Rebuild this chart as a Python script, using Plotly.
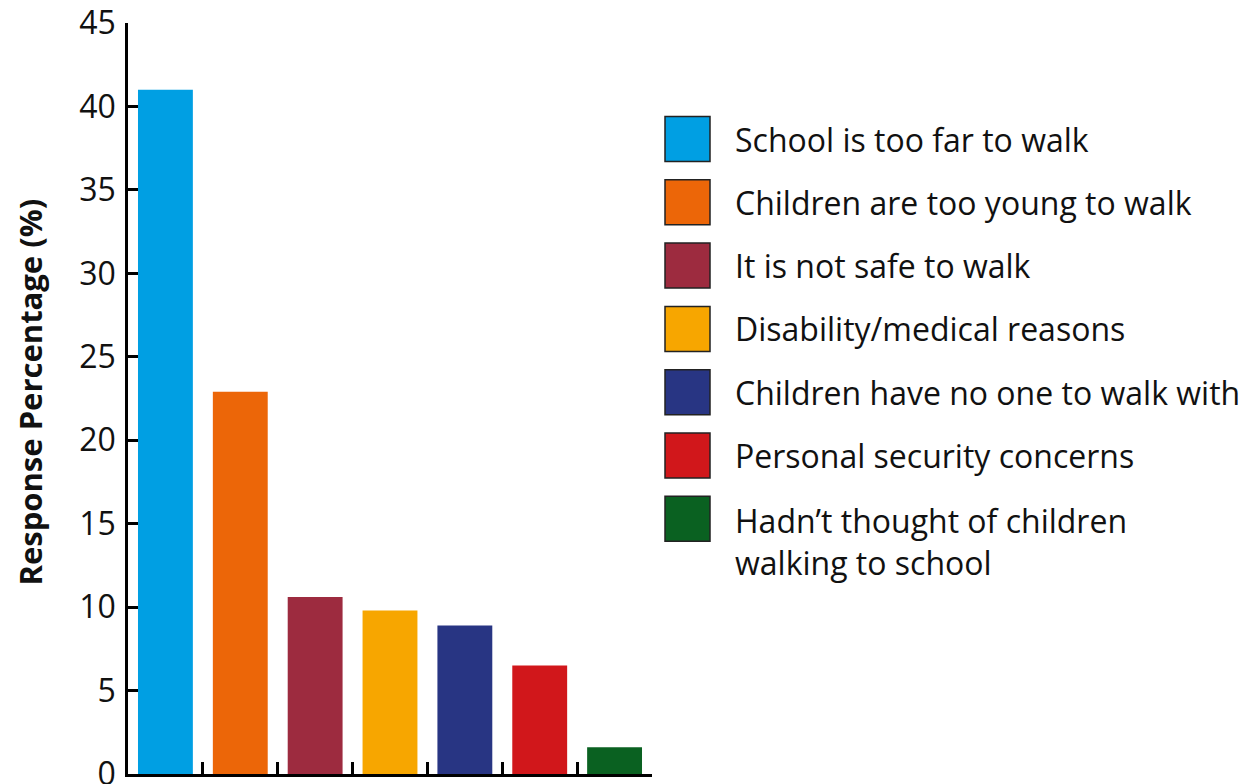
import plotly.graph_objects as go

categories = [
    "School is too far to walk",
    "Children are too young to walk",
    "It is not safe to walk",
    "Disability/medical reasons",
    "Children have no one to walk with",
    "Personal security concerns",
    "Hadn’t thought of children walking to school",
]
legend_labels = [
    "School is too far to walk",
    "Children are too young to walk",
    "It is not safe to walk",
    "Disability/medical reasons",
    "Children have no one to walk with",
    "Personal security concerns",
    "Hadn’t thought of children<br>walking to school",
]
values = [41.0, 22.9, 10.6, 9.8, 8.9, 6.5, 1.6]
colors = ["#009FE3", "#EC6608", "#9D2B3F", "#F7A600", "#283583", "#D1171B", "#0A6121"]
y_ticks = [0, 5, 10, 15, 20, 25, 30, 35, 40, 45]
y_title = "Response Percentage (%)"

OFF = 8  # page body margin
W, H = 1257 - OFF, 784 - OFF
L, T = 128 - OFF, 23 - OFF
R = W - (652 - OFF)
B = H - (774 - OFF)
pw, ph = W - L - R, H - T - B
FONT = "Open Sans"
FS = 32

fig = go.Figure()
fig.add_trace(go.Bar(x=categories, y=values, marker=dict(color=colors, line=dict(width=0)),
                     showlegend=False))

def px_x(p):
    return (p - OFF - L) / pw

def px_y(p):
    return (H - B - (p - OFF)) / ph

shapes = []
annotations = []
for i, (lab, col) in enumerate(zip(legend_labels, colors)):
    cy = 139 + 63.3 * i
    shapes.append(dict(type="rect", xref="paper", yref="paper",
                       x0=px_x(665), x1=px_x(710), y0=px_y(cy + 22.5), y1=px_y(cy - 22.5),
                       fillcolor=col, line=dict(color="#222222", width=1.5)))
    nlines = lab.count("<br>") + 1
    annotations.append(dict(xref="paper", yref="paper", x=px_x(733),
                            y=px_y(cy - 0.5 * FS * 1.3 - 1) if nlines > 1 else px_y(cy),
                            xanchor="left", yanchor="top" if nlines > 1 else "middle",
                            align="left", showarrow=False,
                            text=lab, font=dict(family=FONT, size=FS, color="#111111")))

annotations.append(dict(xref="paper", yref="paper", x=px_x(29.5), y=px_y(392),
                        xanchor="center", yanchor="middle", textangle=-90, showarrow=False,
                        text="<b>" + y_title + "</b>",
                        font=dict(family=FONT, size=31, color="#111111")))

fig.update_layout(
    width=W, height=H,
    margin=dict(l=L, r=R, t=T, b=B),
    paper_bgcolor="white", plot_bgcolor="white",
    font=dict(family=FONT, size=FS, color="#111111"),
    bargap=0.267,
    shapes=shapes, annotations=annotations,
    xaxis=dict(type="category", range=[-0.5, 6.5], showticklabels=False, ticks="inside",
               tickson="boundaries", ticklen=12, tickwidth=2.5, tickcolor="black",
               showline=True, linecolor="black", linewidth=2.5, showgrid=False, zeroline=False,
               fixedrange=True),
    yaxis=dict(range=[0, 45], tickvals=y_ticks, ticks="inside", ticklen=10, tickwidth=2.5,
               tickcolor="black", showline=True, linecolor="black", linewidth=2.5,
               showgrid=False, zeroline=False, automargin=False, ticklabelstandoff=3,
               ticklabeloverflow="allow",
               tickfont=dict(family=FONT, size=FS, color="#111111")),
)

fig.write_html("out.html")
